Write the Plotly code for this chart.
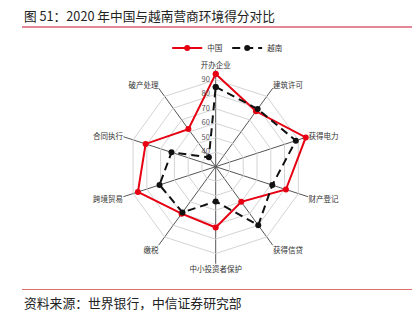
import plotly.graph_objects as go

categories = ["开办企业", "建筑许可", "获得电力", "财产登记", "获得信贷",
              "中小投资者保护", "缴税", "跨境贸易", "合同执行", "破产处理"]
china = [94.1, 77.3, 95.4, 81.0, 60.0, 72.0, 70.1, 86.5, 80.9, 62.1]
vietnam = [85.1, 79.3, 88.2, 71.1, 80.0, 54.0, 69.0, 70.8, 62.1, 38.0]
radial_ticks = [30, 40, 50, 60, 70, 80, 90]

W, H = 414, 322
FONT = "Noto Sans CJK SC"

fig = go.Figure()
fig.add_trace(go.Scatterpolar(
    r=china + [china[0]], theta=categories + [categories[0]], name="中国",
    mode="lines+markers", cliponaxis=False,
    line=dict(color="#e60012", width=2),
    marker=dict(color="#e60012", size=6),
))
fig.add_trace(go.Scatterpolar(
    r=vietnam + [vietnam[0]], theta=categories + [categories[0]], name="越南",
    mode="lines+markers", cliponaxis=False,
    line=dict(color="#111111", width=2, dash="8px,5px"),
    marker=dict(color="#111111", size=6),
))
# radial tick labels, placed left of the top spoke
fig.add_trace(go.Scatterpolar(
    r=radial_ticks, theta=[categories[0]] * len(radial_ticks),
    mode="text", text=[f"{t}\u2007\u00a0" for t in radial_ticks],
    textposition="middle left", cliponaxis=False, showlegend=False, hoverinfo="skip",
    textfont=dict(size=7.5, color="#555555", family=FONT),
))

cx, cy, R = 215.7, 166.7, 97.0
fig.update_layout(
    width=W, height=H,
    margin=dict(l=0, r=0, t=0, b=0),
    paper_bgcolor="white", plot_bgcolor="white",
    font=dict(family=FONT, size=8, color="#333333"),
    showlegend=True,
    legend=dict(orientation="h", x=0.55, y=1 - 48 / H, xanchor="center", yanchor="middle",
                font=dict(size=7.5, color="#333333"), itemwidth=30,
                bgcolor="rgba(0,0,0,0)"),
    polar=dict(
        domain=dict(x=[(cx - R) / W, (cx + R) / W], y=[1 - (cy + R) / H, 1 - (cy - R) / H]),
        bgcolor="white",
        gridshape="linear",
        radialaxis=dict(range=[30, 97], tickvals=radial_ticks, angle=90,
                        showticklabels=False,
                        showline=False, gridcolor="#d4d4d4", gridwidth=0.8,
                        ticks=""),
        angularaxis=dict(direction="clockwise", rotation=90, showline=False,
                         gridcolor="#555555", gridwidth=0.8, ticks="",
                         tickfont=dict(size=7.5, color="#333333")),
    ),
    annotations=[
        dict(text="图 51：2020 年中国与越南营商环境得分对比", x=22 / W, y=1 - 16 / H,
             xref="paper", yref="paper", xanchor="left", yanchor="middle",
             showarrow=False, font=dict(size=12.7, color="#222222", family=FONT)),
        dict(text="资料来源：世界银行，中信证券研究部", x=22 / W, y=1 - 302 / H,
             xref="paper", yref="paper", xanchor="left", yanchor="middle",
             showarrow=False, font=dict(size=12.8, color="#222222", family=FONT)),
    ],
    shapes=[
        dict(type="line", xref="paper", yref="paper", x0=22 / W, x1=412 / W,
             y0=1 - 27 / H, y1=1 - 27 / H, line=dict(color="#c8102e", width=1)),
        dict(type="line", xref="paper", yref="paper", x0=22 / W, x1=412 / W,
             y0=1 - 289.5 / H, y1=1 - 289.5 / H, line=dict(color="#e07070", width=1)),
    ],
)

fig.write_html("out.html")
